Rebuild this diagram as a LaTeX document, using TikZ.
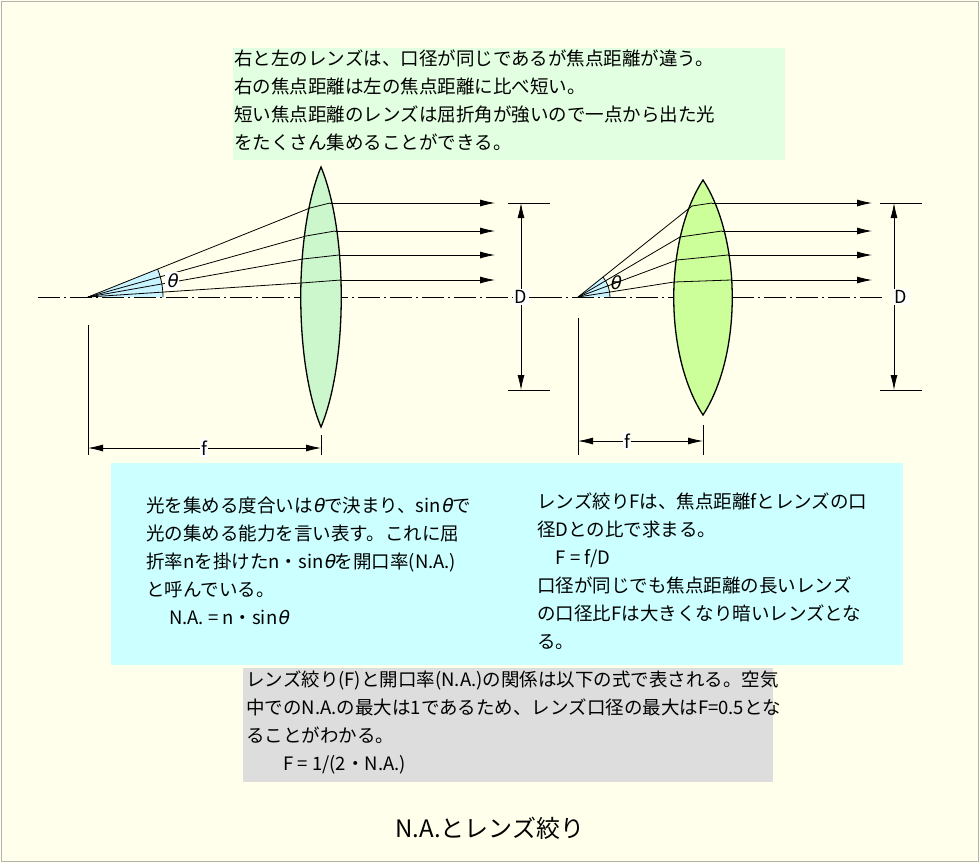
\documentclass[tikz,border=0pt]{standalone}
\usepackage{fontspec}
\setmainfont{Noto Sans CJK JP}
\newfontfamily\greekit{DejaVu Sans}[FakeSlant=0.2]
\usetikzlibrary{arrows.meta,positioning}

\definecolor{paper}{HTML}{FFFFEB}
\definecolor{lensA}{HTML}{CCF7CC}
\definecolor{lensB}{HTML}{CCFF99}
\definecolor{noteA}{HTML}{E2FFE2}
\definecolor{noteB}{HTML}{CCFFFF}
\definecolor{noteC}{HTML}{DDDDDD}
\definecolor{wedge}{HTML}{C8F4FF}
\newcommand{\thet}{{\greekit θ}}

\begin{document}
\begin{tikzpicture}[
    x=1pt, y=-1pt,
    every path/.style={line width=0.8pt},
    ray/.style={},
    beam/.style={-{Latex[length=15pt,width=7pt]}},
    dim/.style={{Latex[length=15pt,width=7pt]}-{Latex[length=15pt,width=7pt]}},
    axis/.style={dash pattern=on 22pt off 4pt on 2pt off 4pt},
    lens/.style={draw, line width=1.3pt},
    tag/.style={fill=white, inner sep=1.5pt, font=\fontsize{18}{18}\selectfont},
    para/.style={anchor=north west, align=left, inner sep=0pt, font=\fontsize{18.5}{28}\selectfont}
]
\useasboundingbox (0,0) rectangle (980,863);
\fill[paper] (0,0) rectangle (980,863);
\draw[gray!60] (1,1) rectangle (978,861);

% text boxes
\fill[noteA] (233,48) rectangle (785,160);
\fill[noteB] (111,463) rectangle (903,665);
\fill[noteC] (243,668) rectangle (773,782);

% left lens (long focal length)
\coordinate (fa) at (88,297);
\fill[wedge] (fa) -- (163,297) arc[start angle=0, end angle=-21.8, radius=75] -- cycle;
\draw (163,297) arc[start angle=0, end angle=-21.8, radius=75];
\draw[axis] (38,297) -- (552,297);
\draw[lens, fill=lensA] (321,167) .. controls (294,232) and (294,362) .. (321,427)
    .. controls (348,362) and (348,232) .. (321,167) -- cycle;
\foreach \xa/\ya/\xb/\yb in {310/208/330/203, 306/236/335/231, 303/259/339/255, 301/283/341/280}{
  \draw[ray] (fa) -- (\xa,\ya) -- (\xb,\yb);
  \draw[beam] (\xb,\yb) -- (495,\yb);
}
\node[tag] (thA) at (172,281) {\thet};
\draw (508,203) -- (550,203) (508,390) -- (550,390);
\draw[dim] (521,203) -- (521,390);
\node[tag] (dA) at (521,297) {D};
\draw (88,325) -- (88,455) (321,435) -- (321,455);
\draw[dim] (88,448) -- (321,448);
\node[tag] (fA) at (204,448) {f};

% right lens (short focal length)
\coordinate (fb) at (578,297);
\fill[wedge] (fb) -- (610,297) arc[start angle=0, end angle=-38.6, radius=32] -- cycle;
\draw (610,297) arc[start angle=0, end angle=-38.6, radius=32];
\draw[axis] (540,297) -- (882,297);
\draw[lens, fill=lensB] (703,180) .. controls (664,240) and (664,355) .. (703,415)
    .. controls (742,355) and (742,240) .. (703,180) -- cycle;
\foreach \xa/\ya/\xb/\yb in {692/206/712/203, 680/237/722/231, 677/260/728/255, 674/282/731/280}{
  \draw[ray] (fb) -- (\xa,\ya) -- (\xb,\yb);
  \draw[beam] (\xb,\yb) -- (872,\yb);
}
\node[font=\fontsize{18}{18}\selectfont, inner sep=1pt] (thB) at (615,283) {\thet};
\draw (880,203) -- (922,203) (880,390) -- (922,390);
\draw[dim] (894,203) -- (894,390);
\node[tag] (dB) at (901,297) {D};
\draw (578,318) -- (578,455) (703,425) -- (703,455);
\draw[dim] (578,441) -- (703,441);
\node[tag] (fB) at (627,441) {f};

% notes
\node[para] (top) at (234,49) {右と左のレンズは、口径が同じであるが焦点距離が違う。\\
右の焦点距離は左の焦点距離に比べ短い。\\
短い焦点距離のレンズは屈折角が強いので一点から出た光\\
をたくさん集めることができる。};
\node[para] (na) at (146,497) {光を集める度合いは\thet で決まり、sin\thet で\\
光の集める能力を言い表す。これに屈\\
折率nを掛けたn・sin\thet を開口率(N.A.)\\
と呼んでいる。\\
\quad\ N.A. = n・sin\thet};
\node[para] (fn) at (537,492) {レンズ絞りFは、焦点距離fとレンズの口\\
径Dとの比で求まる。\\
\quad F = f/D\\
口径が同じでも焦点距離の長いレンズ\\
の口径比Fは大きくなり暗いレンズとな\\
る。};
\node[para] (rel) at (246,670) {レンズ絞り(F)と開口率(N.A.)の関係は以下の式で表される。空気\\
中でのN.A.の最大は1であるため、レンズ口径の最大はF=0.5とな\\
ることがわかる。\\
\qquad F = 1/(2・N.A.)};
\node[font=\fontsize{24}{24}\selectfont] (title) at (490,828) {N.A.とレンズ絞り};
\end{tikzpicture}
\end{document}
